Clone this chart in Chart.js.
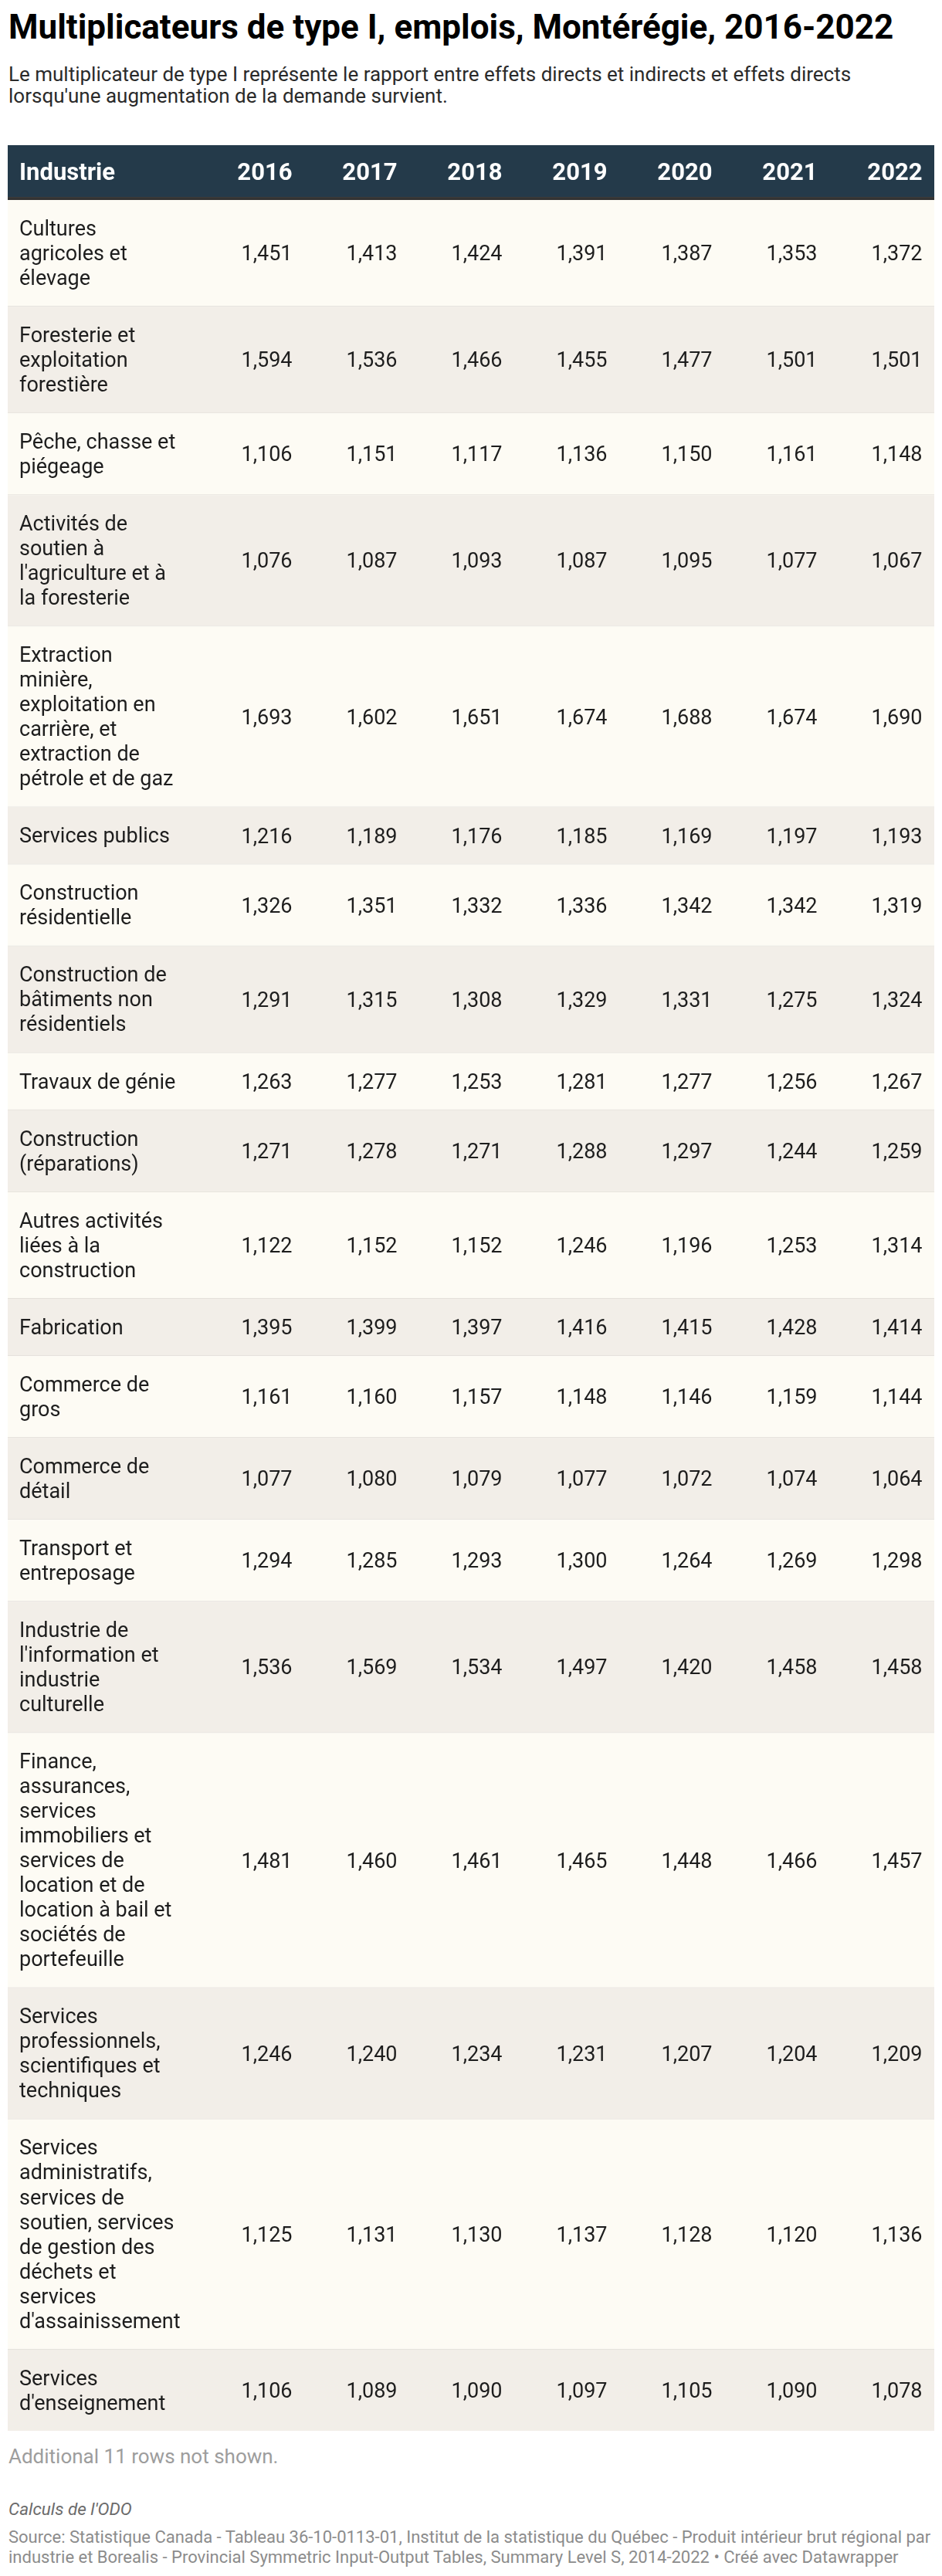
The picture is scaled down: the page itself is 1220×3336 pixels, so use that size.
<!DOCTYPE html>
<html lang="fr">
<head>
<meta charset="utf-8">
<title>Multiplicateurs de type I, emplois, Montérégie, 2016-2022</title>
<script src="https://cdn.jsdelivr.net/npm/chart.js@4.4.1/dist/chart.umd.min.js"></script>
<style>
  html, body { margin:0; padding:0; background:#ffffff; width:1220px; height:3336px; overflow:hidden; }
  body { position:relative; font-family:Roboto, "Noto Sans", sans-serif; }
  .abs { position:absolute; left:11px; white-space:nowrap; margin:0; }
  #title { top:13px; font-size:44px; line-height:44px; font-weight:700; color:#000; }
  #desc { top:83px; font-size:26px; line-height:27.5px; color:#2a2a2a; }
  #more { top:3166px; font-size:26px; line-height:30px; color:#9d9d9d; }
  #notes { top:3236px; font-size:22.5px; line-height:26px; font-style:italic; color:#6b6b6b; }
  #source { top:3273px; font-size:22px; line-height:26px; color:#8c8c8c; }
  #c { position:absolute; left:0; top:188px; width:1220px; height:2960px; }
</style>
</head>
<body>
<h1 class="abs" id="title">Multiplicateurs de type I, emplois, Montérégie, 2016-2022</h1>
<div class="abs" id="desc">Le multiplicateur de type I représente le rapport entre effets directs et indirects et effets directs<br>lorsqu'une augmentation de la demande survient.</div>
<canvas id="c" width="1220" height="2960"></canvas>
<div class="abs" id="more">Additional 11 rows not shown.</div>
<div class="abs" id="notes">Calculs de l'ODO</div>
<div class="abs" id="source">Source: Statistique Canada - Tableau 36-10-0113-01, Institut de la statistique du Québec - Produit intérieur brut régional par<br>industrie et Borealis - Provincial Symmetric Input-Output Tables, Summary Level S, 2014-2022 • Créé avec Datawrapper</div>

<script>
// ---------------- DATA ----------------
const headerLabel = "Industrie";
const years = ["2016", "2017", "2018", "2019", "2020", "2021", "2022"];

const industries = [
  ["Cultures", "agricoles et", "élevage"],
  ["Foresterie et", "exploitation", "forestière"],
  ["Pêche, chasse et", "piégeage"],
  ["Activités de", "soutien à", "l'agriculture et à", "la foresterie"],
  ["Extraction", "minière,", "exploitation en", "carrière, et", "extraction de", "pétrole et de gaz"],
  ["Services publics"],
  ["Construction", "résidentielle"],
  ["Construction de", "bâtiments non", "résidentiels"],
  ["Travaux de génie"],
  ["Construction", "(réparations)"],
  ["Autres activités", "liées à la", "construction"],
  ["Fabrication"],
  ["Commerce de", "gros"],
  ["Commerce de", "détail"],
  ["Transport et", "entreposage"],
  ["Industrie de", "l'information et", "industrie", "culturelle"],
  ["Finance,", "assurances,", "services", "immobiliers et", "services de", "location et de", "location à bail et", "sociétés de", "portefeuille"],
  ["Services", "professionnels,", "scientifiques et", "techniques"],
  ["Services", "administratifs,", "services de", "soutien, services", "de gestion des", "déchets et", "services", "d'assainissement"],
  ["Services", "d'enseignement"]
];

const v2016 = [1.451, 1.594, 1.106, 1.076, 1.693, 1.216, 1.326, 1.291, 1.263, 1.271, 1.122, 1.395, 1.161, 1.077, 1.294, 1.536, 1.481, 1.246, 1.125, 1.106];
const v2017 = [1.413, 1.536, 1.151, 1.087, 1.602, 1.189, 1.351, 1.315, 1.277, 1.278, 1.152, 1.399, 1.160, 1.080, 1.285, 1.569, 1.460, 1.240, 1.131, 1.089];
const v2018 = [1.424, 1.466, 1.117, 1.093, 1.651, 1.176, 1.332, 1.308, 1.253, 1.271, 1.152, 1.397, 1.157, 1.079, 1.293, 1.534, 1.461, 1.234, 1.130, 1.090];
const v2019 = [1.391, 1.455, 1.136, 1.087, 1.674, 1.185, 1.336, 1.329, 1.281, 1.288, 1.246, 1.416, 1.148, 1.077, 1.300, 1.497, 1.465, 1.231, 1.137, 1.097];
const v2020 = [1.387, 1.477, 1.150, 1.095, 1.688, 1.169, 1.342, 1.331, 1.277, 1.297, 1.196, 1.415, 1.146, 1.072, 1.264, 1.420, 1.448, 1.207, 1.128, 1.105];
const v2021 = [1.353, 1.501, 1.161, 1.077, 1.674, 1.197, 1.342, 1.275, 1.256, 1.244, 1.253, 1.428, 1.159, 1.074, 1.269, 1.458, 1.466, 1.204, 1.120, 1.090];
const v2022 = [1.372, 1.501, 1.148, 1.067, 1.690, 1.193, 1.319, 1.324, 1.267, 1.259, 1.314, 1.414, 1.144, 1.064, 1.298, 1.458, 1.457, 1.209, 1.136, 1.078];
const seriesByYear = [v2016, v2017, v2018, v2019, v2020, v2021, v2022];

// ---------------- LAYOUT / STYLE ----------------
const TABLE_LEFT = 10, TABLE_WIDTH = 1200;
const FIRST_COL_RIGHT = 378.5, COL_STEP = 136;   // text anchor of the year columns (px)
const CELL_PAD_X = 15;
const HEADER_H = 67, HEADER_BORDER = 4;
const LINE_H = 32, ROW_PAD = 20.5, ROW_SEP = 1;
const BODY_FONT = 27, HEAD_FONT = 31;
const COLORS = {
  header: "#243a4a", headerBorder: "#333333", headerText: "#ffffff",
  rowA: "#fdfbf4", rowB: "#f2eee8", sep: "#e4e0da", text: "#1d1d1d"
};

// row geometry (in table units = px), derived from the number of label lines
const rowGeom = [];
(function () {
  let t = HEADER_H + HEADER_BORDER;
  industries.forEach((lines, i) => {
    const content = lines.length * LINE_H + 2 * ROW_PAD;
    rowGeom.push({ top: t, bottom: t + content });
    t += content + (i < industries.length - 1 ? ROW_SEP : 0);
  });
  rowGeom.total = t;
})();

function fmt(v) { return v.toFixed(3).replace(".", ","); }

const X_MIN = 1 - (FIRST_COL_RIGHT - TABLE_LEFT) / COL_STEP;
const X_MAX = X_MIN + TABLE_WIDTH / COL_STEP;

const tablePlugin = {
  id: "tableCells",
  beforeDatasetsDraw(chart) {
    const { ctx, chartArea, scales: { x, y } } = chart;
    const L = chartArea.left, W = chartArea.right - chartArea.left;
    ctx.save();
    // header band
    const h0 = y.getPixelForValue(0), h1 = y.getPixelForValue(HEADER_H), h2 = y.getPixelForValue(HEADER_H + HEADER_BORDER);
    ctx.fillStyle = COLORS.header;
    ctx.fillRect(L, h0, W, h1 - h0);
    ctx.fillStyle = COLORS.headerBorder;
    ctx.fillRect(L, h1, W, h2 - h1);
    // row backgrounds + separators
    rowGeom.forEach((r, i) => {
      const top = y.getPixelForValue(r.top), bot = y.getPixelForValue(r.bottom);
      ctx.fillStyle = i % 2 ? COLORS.rowB : COLORS.rowA;
      ctx.fillRect(L, top, W, bot - top);
      if (i < rowGeom.length - 1) {
        ctx.fillStyle = COLORS.sep;
        ctx.fillRect(L, bot, W, y.getPixelForValue(r.bottom + ROW_SEP) - bot);
      }
    });
    // header texts
    const hMid = (h0 + h1) / 2;
    ctx.font = "700 " + HEAD_FONT + "px Roboto";
    ctx.fillStyle = COLORS.headerText;
    ctx.textBaseline = "alphabetic";
    ctx.textAlign = "left";
    ctx.fillText(headerLabel, L + CELL_PAD_X, hMid + HEAD_FONT * 0.711 / 2);
    ctx.textAlign = "right";
    years.forEach((yr, j) => ctx.fillText(yr, x.getPixelForValue(j + 1), hMid + HEAD_FONT * 0.711 / 2));
    // industry labels
    ctx.font = "400 " + BODY_FONT + "px Roboto";
    ctx.fillStyle = COLORS.text;
    ctx.textAlign = "left";
    industries.forEach((lines, i) => {
      const r = rowGeom[i];
      lines.forEach((ln, k) => {
        const lineTop = y.getPixelForValue(r.top + ROW_PAD + k * LINE_H);
        const base = lineTop + (LINE_H - BODY_FONT * 1.172) / 2 + BODY_FONT * 0.928;
        ctx.fillText(ln, L + CELL_PAD_X, base);
      });
    });
    ctx.restore();
  },
  afterDatasetsDraw(chart) {
    const { ctx } = chart;
    ctx.save();
    ctx.font = "400 " + BODY_FONT + "px Roboto";
    ctx.fillStyle = COLORS.text;
    ctx.textAlign = "right";
    ctx.textBaseline = "alphabetic";
    chart.data.datasets.forEach((ds, di) => {
      const meta = chart.getDatasetMeta(di);
      meta.data.forEach((pt, i) => {
        ctx.fillText(fmt(ds.data[i].v), pt.x, pt.y + BODY_FONT * 0.711 / 2);
      });
    });
    ctx.restore();
  }
};

function build() {
  if (window.__built) return; window.__built = true;
  const datasets = years.map((yr, j) => ({
    label: yr,
    data: seriesByYear[j].map((v, i) => ({ x: j + 1, y: (rowGeom[i].top + rowGeom[i].bottom) / 2, v: v })),
    pointRadius: 0,
    pointHoverRadius: 0,
    showLine: false
  }));
  new Chart(document.getElementById("c"), {
    type: "scatter",
    data: { datasets },
    options: {
      responsive: false,
      devicePixelRatio: 1,
      animation: false,
      events: [],
      layout: { padding: { left: TABLE_LEFT, right: 1220 - TABLE_LEFT - TABLE_WIDTH, top: 0, bottom: 0 } },
      plugins: { legend: { display: false }, tooltip: { enabled: false }, title: { display: false } },
      scales: {
        x: { type: "linear", min: X_MIN, max: X_MAX, display: false },
        y: { type: "linear", min: 0, max: rowGeom.total, reverse: true, display: false }
      }
    },
    plugins: [tablePlugin]
  });
}

if (document.fonts && document.fonts.load) {
  Promise.all([
    document.fonts.load("400 27px Roboto"),
    document.fonts.load("700 31px Roboto")
  ]).then(build, build);
} else {
  build();
}
</script>
</body>
</html>
